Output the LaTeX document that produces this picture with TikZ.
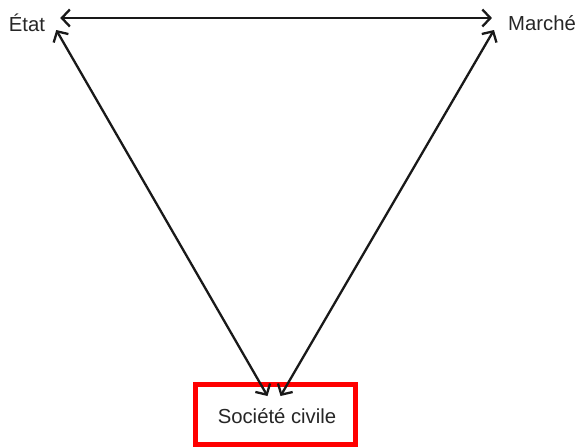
\documentclass[tikz,border=0pt]{standalone}
\usepackage{fontspec}
\setmainfont{Liberation Sans}
\usetikzlibrary{arrows.meta}
\begin{document}
\begin{tikzpicture}[x=1pt,y=-1pt,
  lbl/.style={font=\fontsize{20.3}{23}\selectfont, inner sep=0pt, text=black!85},
  link/.style={line width=2.3pt, black!90, {Straight Barb[length=8pt,width=17pt,line width=2.3pt]}-{Straight Barb[length=8pt,width=17pt,line width=2.3pt]}},
  redbox/.style={draw=red, line width=5pt, minimum width=160pt, minimum height=60pt, inner sep=0pt}]
\useasboundingbox[fill=white] (0,0) rectangle (580,447);
\node[lbl] (etat) at (27,23) {État};
\node[lbl] (marche) at (542,23) {Marché};
\node[redbox] (box) at (275.5,414.5) {};
\node[lbl] (soc) at (277,416) {Société civile};
\coordinate (etatE) at ([xshift=15pt,yshift=5pt]etat.east);
\coordinate (etatS) at ([xshift=11pt,yshift=-7pt]etat.east);
\coordinate (marW) at ([xshift=-16pt,yshift=5pt]marche.west);
\coordinate (marS) at ([xshift=-14pt,yshift=-7pt]marche.west);
\coordinate (socL) at ([xshift=-8pt,yshift=-14pt]box.north);
\coordinate (socR) at ([xshift=5pt,yshift=-14pt]box.north);
\draw[link] (etatE) -- (marW);
\draw[link] (etatS) -- (socL);
\draw[link] (marS) -- (socR);
\end{tikzpicture}
\end{document}
